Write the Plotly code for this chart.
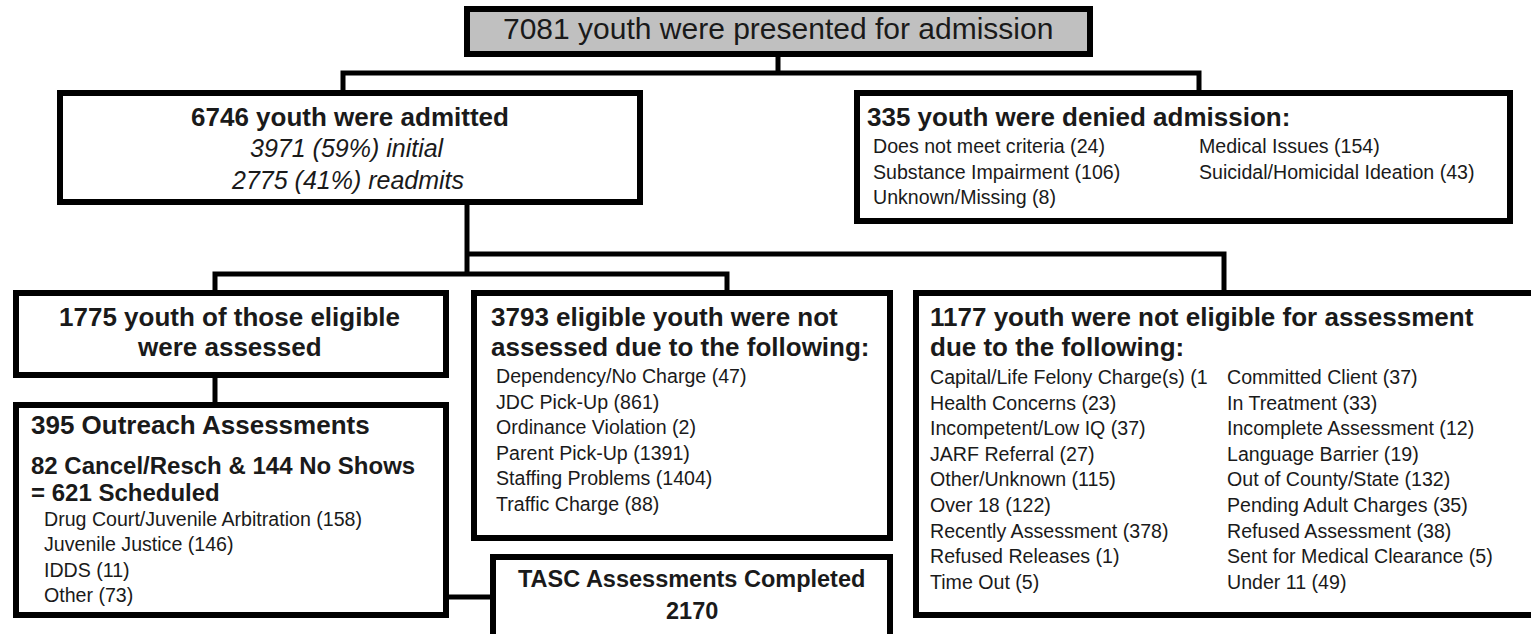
import plotly.graph_objects as go

W, H = 1531, 634

# ---------------- data ----------------
presented_total = 7081
admitted_total = 6746
admitted_initial, admitted_initial_pct = 3971, 59
admitted_readmit, admitted_readmit_pct = 2775, 41

denied_total = 335
denied_col1 = ["Does not meet criteria", "Substance Impairment", "Unknown/Missing"]
denied_col1_counts = [24, 106, 8]
denied_col2 = ["Medical Issues", "Suicidal/Homicidal Ideation"]
denied_col2_counts = [154, 43]

assessed_total = 1775
outreach_total = 395
cancel_resch = 82
no_shows = 144
scheduled_total = 621
outreach_sources = ["Drug Court/Juvenile Arbitration", "Juvenile Justice", "IDDS", "Other"]
outreach_counts = [158, 146, 11, 73]

not_assessed_total = 3793
not_assessed_reasons = ["Dependency/No Charge", "JDC Pick-Up", "Ordinance Violation",
                        "Parent Pick-Up", "Staffing Problems", "Traffic Charge"]
not_assessed_counts = [47, 861, 2, 1391, 1404, 88]

not_eligible_total = 1177
not_eligible_col1 = ["Capital/Life Felony Charge(s)", "Health Concerns", "Incompetent/Low IQ",
                     "JARF Referral", "Other/Unknown", "Over 18", "Recently Assessment",
                     "Refused Releases", "Time Out"]
not_eligible_col1_counts = ["1", 23, 37, 27, 115, 122, 378, 1, 5]   # first value is cut off in the source
not_eligible_col2 = ["Committed Client", "In Treatment", "Incomplete Assessment", "Language Barrier",
                     "Out of County/State", "Pending Adult Charges", "Refused Assessment",
                     "Sent for Medical Clearance", "Under 11"]
not_eligible_col2_counts = [37, 33, 12, 19, 132, 35, 38, 5, 49]

tasc_completed = 2170

# ---------------- styling / layout ----------------
FONT = "Liberation Sans, Arial, sans-serif"
TXT = "#1a1a1a"
BORDER = 6
CONN = 5
ITEM = 19.6
TITLE = 26
STEP = 25.6

fig = go.Figure()
shapes = []
annos = []


def connector(points):
    d = "M " + " L ".join(f"{x},{y}" for x, y in points)
    shapes.append(dict(type="path", path=d, xref="x", yref="y",
                       line=dict(color="black", width=CONN)))


def box(x0, y0, x1, y1, fill="white"):
    h = BORDER / 2
    shapes.append(dict(type="rect", xref="x", yref="y", x0=x0 + h, y0=y0 + h, x1=x1 - h, y1=y1 - h,
                       line=dict(color="black", width=BORDER), fillcolor=fill))


def text(x, y, s, size=ITEM, anchor="left"):
    annos.append(dict(x=x, y=y, xref="x", yref="y", text=s, showarrow=False,
                      xanchor=anchor, yanchor="middle",
                      font=dict(family=FONT, size=size, color=TXT)))


def item(label, count):
    if isinstance(count, str):
        return f"{label} ({count}"
    return f"{label} ({count})"


# connectors (drawn under boxes)
connector([(778, 50), (778, 73)])
connector([(343, 95), (343, 73), (1199, 73), (1199, 95)])
connector([(467, 200), (467, 274)])
connector([(467, 254), (1224, 254), (1224, 295)])
connector([(215, 295), (215, 274), (727, 274), (727, 295)])
connector([(215, 372), (215, 407)])
connector([(444, 597), (495, 597)])

# boxes (the right-hand and TASC boxes run past the page edge, as in the source)
box(464, 6, 1093, 57, fill="#c0c0c0")
box(57, 90, 643, 205)
box(854, 90, 1513, 224)
box(13, 290, 449, 378)
box(13, 402, 449, 618)
box(471, 290, 893, 541)
box(913, 290, 1620, 618)
box(490, 554, 893, 680)

# top
text(778, 28, f"{presented_total} youth were presented for admission", size=30, anchor="center")

# admitted
text(350, 117, f"<b>{admitted_total} youth were admitted</b>", size=TITLE, anchor="center")
text(347, 148, f"<i>{admitted_initial} ({admitted_initial_pct}%) initial</i>", size=25, anchor="center")
text(347, 180, f"<i>{admitted_readmit} ({admitted_readmit_pct}%) readmits</i>", size=25, anchor="center")

# denied
text(865, 117, f"<b>{denied_total} youth were denied admission:</b>", size=TITLE)
for i, (l, c) in enumerate(zip(denied_col1, denied_col1_counts)):
    text(871, 146 + i * STEP, item(l, c))
for i, (l, c) in enumerate(zip(denied_col2, denied_col2_counts)):
    text(1197, 146 + i * STEP, item(l, c))

# assessed
text(229, 317, f"<b>{assessed_total} youth of those eligible</b>", size=TITLE, anchor="center")
text(229, 347, "<b>were assessed</b>", size=TITLE, anchor="center")

# outreach
text(29, 425, f"<b>{outreach_total} Outreach Assessments</b>", size=TITLE)
text(29, 465, f"<b>{cancel_resch} Cancel/Resch &amp; {no_shows} No Shows</b>", size=24)
text(29, 492, f"<b>= {scheduled_total} Scheduled</b>", size=24)
for i, (l, c) in enumerate(zip(outreach_sources, outreach_counts)):
    text(42, 518.5 + i * STEP, item(l, c))

# not assessed
text(489, 317, f"<b>{not_assessed_total} eligible youth were not</b>", size=TITLE)
text(489, 347, "<b>assessed due to the following:</b>", size=TITLE)
for i, (l, c) in enumerate(zip(not_assessed_reasons, not_assessed_counts)):
    text(494, 376 + i * STEP, item(l, c))

# not eligible
text(928, 317, f"<b>{not_eligible_total} youth were not eligible for assessment</b>", size=TITLE)
text(928, 347, "<b>due to the following:</b>", size=TITLE)
for i, (l, c) in enumerate(zip(not_eligible_col1, not_eligible_col1_counts)):
    text(928, 377 + i * STEP, item(l, c))
for i, (l, c) in enumerate(zip(not_eligible_col2, not_eligible_col2_counts)):
    text(1225, 377 + i * STEP, item(l, c))

# TASC
text(691.5, 579, "<b>TASC Assessments Completed</b>", size=23.5, anchor="center")
text(691.5, 611, f"<b>{tasc_completed}</b>", size=23.5, anchor="center")

fig.update_layout(
    width=W, height=H,
    margin=dict(l=0, r=0, t=0, b=0),
    paper_bgcolor="white", plot_bgcolor="white",
    showlegend=False,
    shapes=shapes, annotations=annos,
    xaxis=dict(range=[0, W], visible=False, fixedrange=True),
    yaxis=dict(range=[H, 0], visible=False, fixedrange=True),
)

# remove the browser's default 8px body margin so the figure sits at the page origin
fig.write_html("out.html", config={"displayModeBar": False},
               post_script="document.body.style.margin='0';document.body.style.overflow='hidden';")
